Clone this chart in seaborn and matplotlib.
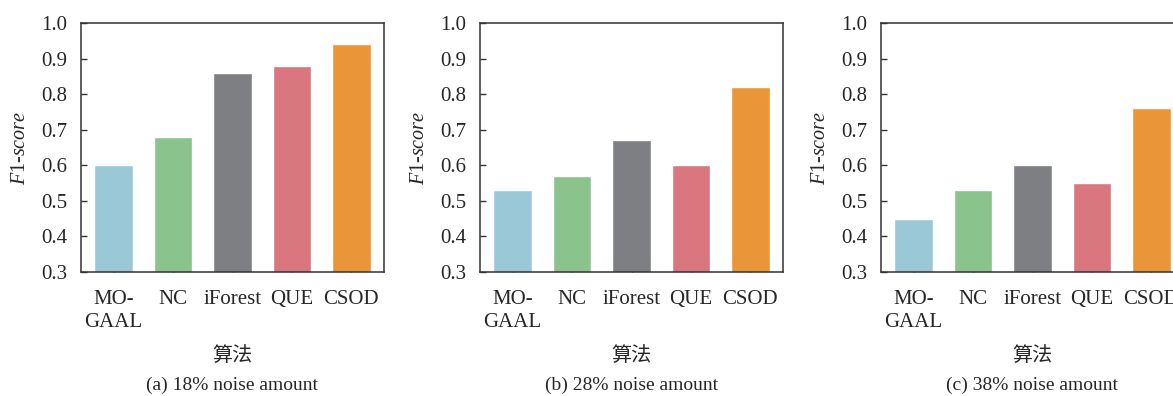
import matplotlib
matplotlib.use("Agg")
import matplotlib.pyplot as plt
import pandas as pd
import seaborn as sns

# data
algorithms = ["MO-\nGAAL", "NC", "iForest", "QUE", "CSOD"]
f1_18 = [0.60, 0.68, 0.86, 0.88, 0.94]
f1_28 = [0.53, 0.57, 0.67, 0.60, 0.82]
f1_38 = [0.45, 0.53, 0.60, 0.55, 0.76]
captions = ["(a) 18% noise amount", "(b) 28% noise amount", "(c) 38% noise amount"]
colors = ["#9BC8D6", "#8AC38B", "#7E7F83", "#D9767E", "#EA9638"]

sns.set_style("ticks")
plt.rcParams["font.family"] = ["Liberation Serif", "Noto Sans CJK SC"]
plt.rcParams["mathtext.fontset"] = "custom"
plt.rcParams["mathtext.rm"] = "Liberation Serif"
plt.rcParams["mathtext.it"] = "Liberation Serif:italic"

fig = plt.figure(figsize=(11.73, 3.96), dpi=100)
W, H = 1173, 396
lefts = [81, 480, 881]

for left, vals, cap in zip(lefts, [f1_18, f1_28, f1_38], captions):
    ax = fig.add_axes([left / W, (H - 272) / H, 303 / W, 249 / H])
    df = pd.DataFrame({"algo": algorithms, "f1": vals})
    sns.barplot(data=df, x="algo", y="f1", hue="algo", palette=colors,
                width=0.65, legend=False, ax=ax, saturation=1)
    ax.set_ylim(0.3, 1.0)
    ax.set_xlim(-0.55, 4.55)
    ax.set_yticks([0.3, 0.4, 0.5, 0.6, 0.7, 0.8, 0.9, 1.0])
    ax.set_yticklabels([f"{v:.1f}" for v in ax.get_yticks()])
    ax.tick_params(direction="in", length=4, width=1, labelsize=15,
                   color="#333333", pad=10)
    ax.tick_params(axis="x", pad=13)
    for lbl in ax.get_xticklabels():
        lbl.set_linespacing(1.25)
    for s in ax.spines.values():
        s.set_visible(True)
        s.set_color("#333333")
        s.set_linewidth(1.1)
    ax.set_ylabel(r"$\mathit{F}$1-$\mathit{score}$", fontsize=14.5, labelpad=8)
    ax.set_xlabel("算法", fontsize=14.5)
    ax.xaxis.set_label_coords(0.5, (272 - 347) / 249)
    ax.text(0.5, (272 - 385) / 249, cap, transform=ax.transAxes,
            ha="center", va="center", fontsize=14)

fig.savefig("out.png", dpi=100)
